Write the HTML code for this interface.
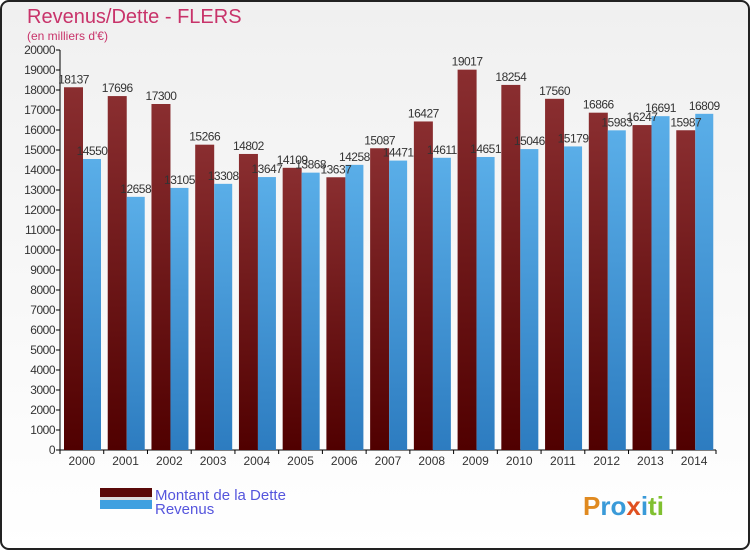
<!DOCTYPE html>
<html><head><meta charset="utf-8"><style>
body{margin:0;width:750px;height:550px;overflow:hidden;background:#fff;font-family:"Liberation Sans",sans-serif}
</style></head><body>
<svg width="750" height="550" viewBox="0 0 750 550" xmlns="http://www.w3.org/2000/svg">
<defs>
<linearGradient id="bg" x1="0" y1="0" x2="0" y2="1"><stop offset="0" stop-color="#f0f0f0"/><stop offset="1" stop-color="#ffffff"/></linearGradient>
<linearGradient id="gd" x1="0" y1="0" x2="0" y2="1"><stop offset="0" stop-color="#8a2e30"/><stop offset="1" stop-color="#500000"/></linearGradient>
<linearGradient id="gr" x1="0" y1="0" x2="0" y2="1"><stop offset="0" stop-color="#5aaee8"/><stop offset="1" stop-color="#2d7cc0"/></linearGradient>
</defs>
<rect x="1" y="1" width="748" height="548" rx="8" fill="url(#bg)" stroke="#222" stroke-width="2"/>
<text x="27" y="23" font-size="20" fill="#c8336a">Revenus/Dette - FLERS</text>
<text x="27" y="40" font-size="12" fill="#c8336a">(en milliers d'€)</text>
<g id="axes"></g>
<g id="bars"></g>
<g>
<rect x="100" y="488" width="52" height="9" fill="#5a0a0a"/>
<rect x="100" y="497" width="52" height="3" fill="#ddd"/>
<rect x="100" y="500" width="52" height="9" fill="#3fa0e0"/>
<text x="155" y="500" font-size="15" fill="#5555dd">Montant de la Dette</text>
<text x="155" y="514" font-size="15" fill="#5555dd">Revenus</text>
</g>
<text x="583" y="515" font-size="26" font-weight="bold" fill="#2a8ad0"><tspan fill="#e08a20">P</tspan><tspan fill="#3a9ad8">ro</tspan><tspan fill="#e05020">x</tspan><tspan fill="#3a9ad8">i</tspan><tspan fill="#80c030">ti</tspan></text>
</svg>
<script>
const years=["2000","2001","2002","2003","2004","2005","2006","2007","2008","2009","2010","2011","2012","2013","2014"];
const dette=[18137,17696,17300,15266,14802,14109,13637,15087,16427,19017,18254,17560,16866,16247,15987];
const revenus=[14550,12658,13105,13308,13647,13868,14258,14471,14611,14651,15046,15179,15983,16691,16809];
const yTicks=[0,1000,2000,3000,4000,5000,6000,7000,8000,9000,10000,11000,12000,13000,14000,15000,16000,17000,18000,19000,20000];
const NS="http://www.w3.org/2000/svg";
const x0=60,x1=716,yb=450,yt=50,ymax=20000;
const gw=(x1-x0)/years.length;
const y=v=>yb-(v/ymax)*(yb-yt);
function mk(t,a,p){const e=document.createElementNS(NS,t);for(const k in a)e.setAttribute(k,a[k]);p.appendChild(e);return e;}
const ax=document.getElementById('axes'),bg=document.getElementById('bars');
const ya=mk('line',{x1:x0,y1:yt,x2:x0,y2:yb,stroke:'#000'},ax);


const xa=mk('line',{x1:x0,y1:yb,x2:x1,y2:yb,stroke:'#000'},ax);


yTicks.forEach(v=>{
 mk('line',{x1:x0-4,y1:y(v),x2:x0,y2:y(v),stroke:'#000'},ax);
 const t=mk('text',{x:x0-5,y:y(v)+4,'font-size':12,'text-anchor':'end',fill:'#333','letter-spacing':'-0.5'},ax);
 t.textContent=v;
 
 
});
years.forEach((yr,i)=>{
 const s=x0+gw*i;
 mk('line',{x1:s,y1:yb,x2:s,y2:yb+4,stroke:'#000'},ax);
 const t=mk('text',{x:s+gw/2,y:yb+15,'font-size':12,'text-anchor':'middle',fill:'#333'},ax);
 t.textContent=yr;
 
 
 const d=mk('rect',{x:s+4,y:y(dette[i]),width:19,height:yb-y(dette[i]),fill:'url(#gd)'},bg);
 
 
 const r=mk('rect',{x:s+23,y:y(revenus[i]),width:18,height:yb-y(revenus[i]),fill:'url(#gr)'},bg);
 
 
 const l1=mk('text',{x:s+13.5,y:y(dette[i])-4,'font-size':12,'text-anchor':'middle',fill:'#333','letter-spacing':'-0.5'},bg);
 l1.textContent=dette[i];
 
 
 const l2=mk('text',{x:s+32,y:y(revenus[i])-4,'font-size':12,'text-anchor':'middle',fill:'#333','letter-spacing':'-0.5'},bg);
 l2.textContent=revenus[i];
 
 
});
mk('line',{x1:x1,y1:yb,x2:x1,y2:yb+4,stroke:'#000'},ax);
</script>
</body></html>
